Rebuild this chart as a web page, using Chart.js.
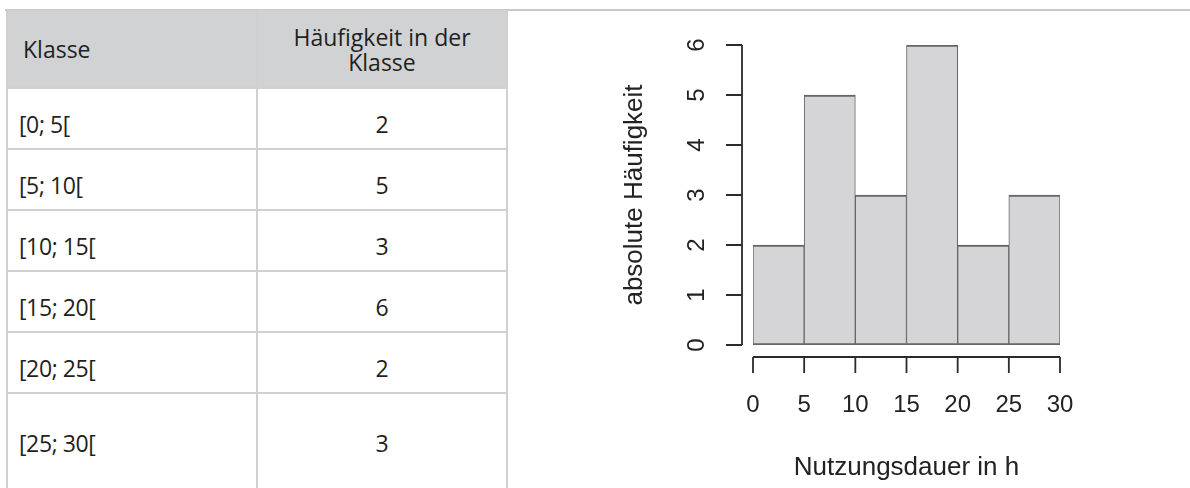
<!DOCTYPE html>
<html lang="de">
<head>
<meta charset="utf-8">
<script src="https://cdn.jsdelivr.net/npm/chart.js@4.4.1/dist/chart.umd.min.js"></script>
<style>
html, body { margin:0; padding:0; background:#fff; width:1190px; height:488px; overflow:hidden; }
#topline { position:absolute; left:5px; top:9px; width:1185px; height:2px; background:#c9c9c9; }
#freqTable { position:absolute; left:6px; top:10px; border-collapse:collapse; table-layout:fixed;
    font-family:"Open Sans", "Noto Sans", sans-serif; font-size:23px; color:#231f20; }
#freqTable th, #freqTable td { border:2px solid #d0d0d0; padding:0; font-weight:normal; }
#freqTable th { background:#d1d2d4; height:75px; line-height:25px; border-top:none; padding-top:2px; }
#freqTable th.c1 { text-align:left; padding-left:15px; }
#freqTable td.c1 { text-align:left; padding-left:11px; padding-top:11px; letter-spacing:-0.4px; }
#freqTable td.c2 { text-align:center; padding-top:11px; }
#histChart { position:absolute; left:520px; top:0; }
</style>
</head>
<body>
<div id="topline"></div>
<table id="freqTable">
    <colgroup><col style="width:250px"><col style="width:250px"></colgroup>
    <thead><tr><th class="c1">Klasse</th><th class="c2">Häufigkeit in der<br>Klasse</th></tr></thead>
    <tbody id="tbody"></tbody>
</table>
<canvas id="histChart" width="670" height="488"></canvas>
<script>
const classLabels = ['[0; 5[', '[5; 10[', '[10; 15[', '[15; 20[', '[20; 25[', '[25; 30['];
const classLower = [0, 5, 10, 15, 20, 25];
const classUpper = [5, 10, 15, 20, 25, 30];
const counts = [2, 5, 3, 6, 2, 3];
const xTickValues = [0, 5, 10, 15, 20, 25, 30];
const yTickValues = [0, 1, 2, 3, 4, 5, 6];
const xTitle = 'Nutzungsdauer in h';
const yTitle = 'absolute Häufigkeit';

// table rows
const rowHeights = [61, 61, 61, 61, 61, 115];
let tbody = document.getElementById('tbody');
for(let i = 0; i < classLabels.length; i++)
{
    let tr = document.createElement('tr');
    tr.style.height = rowHeights[i] + 'px';
    let a = document.createElement('td');
    a.className = 'c1';
    a.textContent = classLabels[i];
    let b = document.createElement('td');
    b.className = 'c2';
    b.textContent = counts[i];
    if(i == classLabels.length-1)
    {
        a.style.paddingBottom = '26px';
        b.style.paddingBottom = '26px';
    }
    tr.appendChild(a);
    tr.appendChild(b);
    tbody.appendChild(tr);
}

// R style detached axes
const rAxes = {
    id: 'rAxes',
    afterDraw(chart) {
        const ctx = chart.ctx;
        const area = chart.chartArea;
        const x = chart.scales.x, y = chart.scales.y;
        const ax = area.left - 11;
        const ay = area.bottom + 12;
        ctx.save();
        ctx.strokeStyle = '#2b2b2b';
        ctx.lineWidth = 1.8;
        ctx.fillStyle = '#222';
        ctx.font = '24px "Liberation Sans", Arial, sans-serif';

        // y axis
        let yTop = y.getPixelForValue(y.ticks[y.ticks.length-1].value);
        let yBot = y.getPixelForValue(y.ticks[0].value);
        ctx.beginPath();
        ctx.moveTo(ax, yTop);
        ctx.lineTo(ax, yBot);
        y.ticks.forEach(t => {
            let py = y.getPixelForValue(t.value);
            ctx.moveTo(ax - 16, py);
            ctx.lineTo(ax, py);
        });
        ctx.stroke();
        ctx.textAlign = 'center';
        ctx.textBaseline = 'middle';
        y.ticks.forEach(t => {
            let py = y.getPixelForValue(t.value);
            ctx.save();
            ctx.translate(ax - 45, py);
            ctx.rotate(-Math.PI/2);
            ctx.fillText(String(t.value), 0, 0);
            ctx.restore();
        });

        // x axis
        let xL = x.getPixelForValue(x.ticks[0].value);
        let xR = x.getPixelForValue(x.ticks[x.ticks.length-1].value);
        ctx.beginPath();
        ctx.moveTo(xL, ay);
        ctx.lineTo(xR, ay);
        x.ticks.forEach(t => {
            let px = x.getPixelForValue(t.value);
            ctx.moveTo(px, ay);
            ctx.lineTo(px, ay + 16);
        });
        ctx.stroke();
        x.ticks.forEach(t => {
            ctx.fillText(String(t.value), x.getPixelForValue(t.value), ay + 48);
        });

        // titles
        ctx.font = '26px "Liberation Sans", Arial, sans-serif';
        ctx.fillText(xTitle, (xL + xR)/2, ay + 111);
        ctx.save();
        ctx.translate(ax - 107, (yTop + yBot)/2);
        ctx.rotate(-Math.PI/2);
        ctx.fillText(yTitle, 0, 0);
        ctx.restore();
        ctx.restore();
    }
};

const chart = new Chart(document.getElementById('histChart'), {
    type: 'bar',
    data: {
        datasets: [{
            data: classLower.map((lo, i) => ({x: (lo + classUpper[i])/2, y: counts[i]})),
            backgroundColor: '#d5d5d8',
            borderColor: '#666666',
            borderWidth: {top: 2, bottom: 2, left: 1, right: 1},
            borderSkipped: false,
            barPercentage: 1,
            categoryPercentage: 1
        }]
    },
    options: {
        responsive: false,
        animation: false,
        devicePixelRatio: 1,
        layout: { padding: {left: 233, right: 130, top: 45, bottom: 143} },
        scales: {
            x: {
                type: 'linear',
                display: false,
                offset: false,
                min: xTickValues[0],
                max: xTickValues[xTickValues.length-1],
                afterBuildTicks: s => { s.ticks = xTickValues.map(v => ({value: v})); }
            },
            y: {
                type: 'linear',
                display: false,
                min: yTickValues[0],
                max: yTickValues[yTickValues.length-1],
                afterBuildTicks: s => { s.ticks = yTickValues.map(v => ({value: v})); }
            }
        },
        plugins: {
            legend: { display: false },
            tooltip: { enabled: false }
        }
    },
    plugins: [rAxes]
});
</script>
</body>
</html>
